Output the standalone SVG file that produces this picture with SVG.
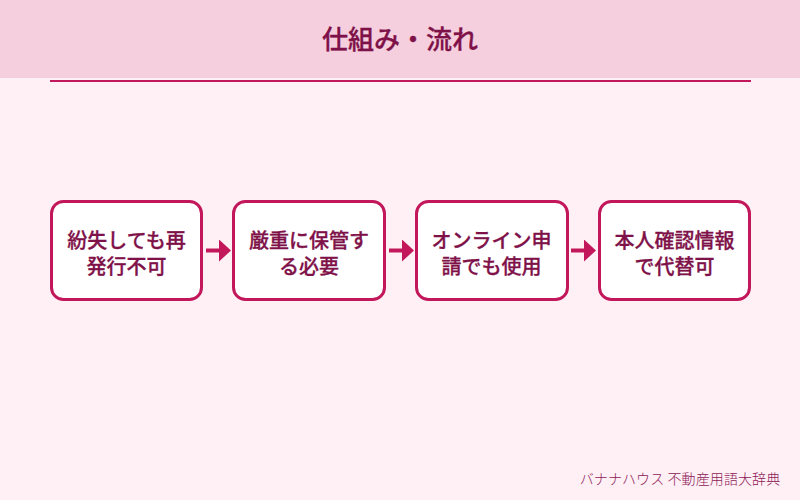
<svg xmlns="http://www.w3.org/2000/svg" width="800" height="500" viewBox="0 0 800 500">
<style>
text{font-family:"Noto Sans CJK JP","Noto Sans",sans-serif;fill:#7f1149;text-anchor:middle}
.t{font-size:26px;font-weight:500;stroke:#7f1149;stroke-width:.3px}
.f{font-size:20px;font-weight:500;stroke:#7f1149;stroke-width:.3px}
.box{fill:#fff;stroke:#c2185b;stroke-width:3}
.c{stroke:#c2185b;stroke-width:4;fill:none;marker-end:url(#a)}
</style>
<defs><marker id="a" markerUnits="userSpaceOnUse" markerWidth="12" markerHeight="22" refX="0" refY="11" orient="auto"><path d="M0 0L12 11L0 22Z" fill="#c2185b"/></marker></defs>
<rect width="800" height="500" fill="#fff0f5"/>
<rect width="800" height="78" fill="#f5cfdd"/>
<line x1="50" y1="81" x2="751" y2="81" stroke="#c2185b" stroke-width="2"/>
<text class="t" x="400" y="49" id="title">仕組み・流れ</text>
<g id="connectors">
<line class="c" x1="206" y1="250.500" x2="219" y2="250.500"/>
<line class="c" x1="389" y1="250.500" x2="402" y2="250.500"/>
<line class="c" x1="571" y1="250.500" x2="584" y2="250.500"/>
</g>
<g id="n1"><rect class="box" x="51.500" y="201.500" width="150" height="98" rx="12"/><text class="f" x="126.500" y="247.500">紛失しても再</text><text class="f" x="126.500" y="274">発行不可</text></g>
<g id="n2"><rect class="box" x="233.500" y="201.500" width="151" height="98" rx="12"/><text class="f" x="309" y="247.500">厳重に保管す</text><text class="f" x="309" y="274">る必要</text></g>
<g id="n3"><rect class="box" x="416.500" y="201.500" width="151" height="98" rx="12"/><text class="f" x="491.500" y="247.500">オンライン申</text><text class="f" x="491.500" y="274">請でも使用</text></g>
<g id="n4"><rect class="box" x="599.500" y="201.500" width="150" height="98" rx="12"/><text class="f" x="674.500" y="247.500">本人確認情報</text><text class="f" x="674.500" y="274">で代替可</text></g>
<text x="680" y="484" style="font-size:14px;font-weight:300;letter-spacing:.1px;fill:#880e4f;opacity:.95" id="footer">バナナハウス 不動産用語大辞典</text>
</svg>
